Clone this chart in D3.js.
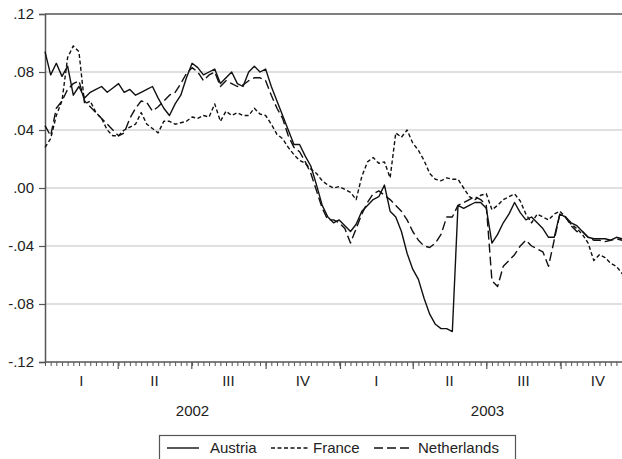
<!DOCTYPE html>
<html>
<head>
<meta charset="utf-8">
<script src="https://cdn.jsdelivr.net/npm/d3@7"></script>
<style>
  body { margin: 0; background: #fff; }
  svg { display: block; }
  text { font-family: "Liberation Sans", Arial, Helvetica, sans-serif; fill: #222; }
</style>
</head>
<body>
<svg id="chart" width="622" height="459"></svg>
<script>
// Weekly observations starting 1 January 2002
const seriesStart = new Date(2002, 0, 1);

const austria = [
  .094, .078, .086, .077, .084, .064, .070, .062, .066, .068,
  .070, .066, .069, .072, .066, .068, .064, .066, .068, .070,
  .062, .055, .050, .058, .064, .076, .086, .083, .078, .080,
  .082, .072, .076, .080, .072, .070, .080, .084, .080, .082,
  .070, .060, .050, .040, .030, .030, .022, .015, .002, -.012,
  -.020, -.024, -.022, -.026, -.030, -.025, -.016, -.012, -.008, -.006,
  .002, -.016, -.020, -.030, -.045, -.056, -.063, -.076, -.087, -.094,
  -.097, -.097, -.099, -.012, -.014, -.012, -.010, -.010, -.014, -.038,
  -.032, -.024, -.018, -.010, -.017, -.022, -.020, -.024, -.028, -.034,
  -.034, -.018, -.020, -.024, -.026, -.030, -.034, -.035, -.035, -.035,
  -.036, -.034, -.035, -.034
];

const france = [
  .028, .034, .050, .060, .090, .098, .094, .058, .060, .052,
  .048, .040, .036, .036, .040, .042, .044, .052, .044, .041,
  .038, .046, .046, .044, .045, .046, .049, .048, .050, .049,
  .058, .046, .053, .050, .052, .050, .050, .055, .051, .050,
  .044, .037, .034, .028, .023, .019, .017, .013, .010, .005,
  .002, .000, .001, -.001, -.003, -.008, .008, .018, .021, .017,
  .018, .007, .038, .035, .040, .031, .026, .019, .010, .006,
  .005, .007, .006, .006, .000, -.006, -.008, -.005, -.004, -.015,
  -.012, -.008, -.006, -.004, -.009, -.018, -.024, -.018, -.020, -.022,
  -.018, -.016, -.020, -.025, -.028, -.032, -.038, -.050, -.046, -.048,
  -.052, -.054, -.059, -.060
];

const netherlands = [
  .043, .036, .055, .060, .068, .072, .074, .060, .056, .052,
  .048, .044, .040, .036, .038, .048, .055, .060, .059, .053,
  .056, .060, .064, .066, .072, .079, .083, .080, .074, .078,
  .080, .070, .074, .072, .070, .071, .074, .076, .076, .074,
  .064, .055, .048, .036, .028, .025, .018, .010, -.002, -.014,
  -.022, -.022, -.024, -.028, -.038, -.028, -.018, -.010, -.004, -.002,
  -.005, -.008, -.012, -.016, -.022, -.030, -.036, -.040, -.041, -.038,
  -.032, -.020, -.020, -.012, -.010, -.008, -.006, -.008, -.012, -.064,
  -.068, -.054, -.050, -.046, -.040, -.036, -.040, -.042, -.044, -.054,
  -.036, -.018, -.020, -.026, -.030, -.030, -.034, -.036, -.036, -.037,
  -.036, -.035, -.036, -.036
];

const yTicks = [.12, .08, .04, .00, -.04, -.08, -.12];
const yTickLabels = [".12", ".08", ".04", ".00", "-.04", "-.08", "-.12"];
const quarterLabels = ["I", "II", "III", "IV", "I", "II", "III", "IV"];
const yearLabels = ["2002", "2003"];
const legendNames = ["Austria", "France", "Netherlands"];

const svg = d3.select("#chart");
const plotLeft = 45, plotRight = 635, plotTop = 14, plotBottom = 362;

const x = d3.scaleTime()
  .domain([new Date(2002, 0, 1), new Date(2004, 0, 1)])
  .range([plotLeft, plotRight]);
const y = d3.scaleLinear().domain([-0.12, 0.12]).range([plotBottom, plotTop]);

const axisColor = "#555";

// horizontal grid lines
svg.append("g")
  .selectAll("line")
  .data(yTicks.filter(v => Math.abs(v) < 0.11))
  .join("line")
  .attr("x1", plotLeft + 1).attr("x2", 622)
  .attr("y1", d => y(d)).attr("y2", d => y(d))
  .attr("stroke", "#d6d6d6").attr("stroke-width", 1.5);

// top frame line
svg.append("line")
  .attr("x1", plotLeft).attr("x2", 622)
  .attr("y1", y(0.12)).attr("y2", y(0.12))
  .attr("stroke", axisColor).attr("stroke-width", 1.5);

// left axis
const yAxis = d3.axisLeft(y)
  .tickValues(yTicks)
  .tickFormat((d, i) => yTickLabels[i])
  .tickSize(6)
  .tickPadding(5);
const gy = svg.append("g").attr("transform", `translate(${plotLeft},0)`).call(yAxis);
gy.select(".domain").attr("stroke", axisColor).attr("stroke-width", 1.5);
gy.selectAll(".tick line").attr("stroke", axisColor).attr("stroke-width", 1.2);
gy.selectAll(".tick text")
  .attr("font-size", 15)
  .attr("font-family", "Liberation Sans, Arial, sans-serif")
  .attr("fill", "#222");

// bottom axis: weekly minor ticks, quarterly major ticks
const quarterStarts = d3.timeMonth.every(3).range(new Date(2002, 0, 1), new Date(2004, 0, 2));
const weekTicks = d3.range(0, 106).map(i => d3.timeDay.offset(seriesStart, 7 * i));
const gx = svg.append("g").attr("transform", `translate(0,${plotBottom})`);
gx.append("line")
  .attr("x1", plotLeft).attr("x2", 622)
  .attr("stroke", axisColor).attr("stroke-width", 1.5);
gx.call(d3.axisBottom(x).tickValues(weekTicks).tickSize(4).tickFormat(""))
  .call(g => g.select(".domain").remove())
  .call(g => g.selectAll(".tick line").attr("stroke", axisColor).attr("stroke-width", 1));
const gxMajor = svg.append("g").attr("transform", `translate(0,${plotBottom})`)
  .call(d3.axisBottom(x).tickValues(quarterStarts.slice(1)).tickSize(7).tickFormat(""));
gxMajor.select(".domain").remove();
gxMajor.selectAll(".tick line").attr("stroke", axisColor).attr("stroke-width", 1.2);

// quarter labels centred in each quarter
svg.append("g")
  .selectAll("text")
  .data(quarterLabels)
  .join("text")
  .attr("x", (d, i) => (x(quarterStarts[i]) + x(d3.timeMonth.offset(quarterStarts[i], 3))) / 2)
  .attr("y", 386)
  .attr("text-anchor", "middle")
  .attr("font-size", 15)
  .text(d => d);

// year labels centred under each year
svg.append("g")
  .selectAll("text")
  .data(yearLabels)
  .join("text")
  .attr("x", (d, i) => (x(new Date(2002 + i, 0, 1)) + x(new Date(2003 + i, 0, 1))) / 2)
  .attr("y", 416)
  .attr("text-anchor", "middle")
  .attr("font-size", 15)
  .text(d => d);

// series lines
const dates = austria.map((_, i) => d3.timeDay.offset(seriesStart, 7 * i));
const line = d3.line()
  .x((d, i) => x(dates[i]))
  .y(d => y(d));

const series = [
  { name: "Austria", values: austria, dash: null },
  { name: "France", values: france, dash: "4,2.5" },
  { name: "Netherlands", values: netherlands, dash: "9,4" }
];

const plot = svg.append("g");
plot.selectAll("path")
  .data(series)
  .join("path")
  .attr("d", d => line(d.values))
  .attr("fill", "none")
  .attr("stroke", "#111")
  .attr("stroke-width", 1.4)
  .attr("stroke-linejoin", "round")
  .attr("stroke-dasharray", d => d.dash);

// legend
const legend = svg.append("g");
legend.append("rect")
  .attr("x", 159.5).attr("y", 435.5)
  .attr("width", 356).attr("height", 30)
  .attr("fill", "#fff").attr("stroke", axisColor).attr("stroke-width", 1.2);
const legendItems = [
  { x1: 167, x2: 199, tx: 210 },
  { x1: 271, x2: 309, tx: 313 },
  { x1: 374, x2: 413, tx: 418 }
];
legend.selectAll("line")
  .data(series)
  .join("line")
  .attr("x1", (d, i) => legendItems[i].x1).attr("x2", (d, i) => legendItems[i].x2)
  .attr("y1", 448).attr("y2", 448)
  .attr("stroke", "#111").attr("stroke-width", 1.4)
  .attr("stroke-dasharray", d => d.dash);
legend.selectAll("text")
  .data(legendNames)
  .join("text")
  .attr("x", (d, i) => legendItems[i].tx)
  .attr("y", 453)
  .attr("font-size", 15)
  .text(d => d);
</script>
</body>
</html>
